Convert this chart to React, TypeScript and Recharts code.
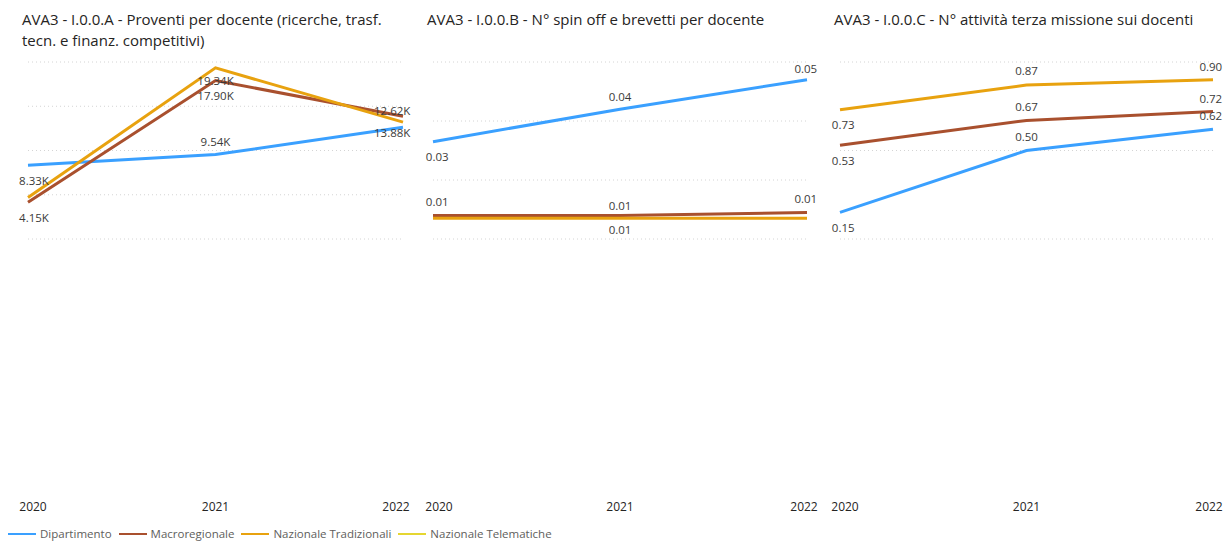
import { LineChart, Line, XAxis, YAxis, CartesianGrid, LabelList } from 'recharts';

const years = ['2020', '2021', '2022'];
const seriesNames = ['Dipartimento', 'Macroregionale', 'Nazionale Tradizionali', 'Nazionale Telematiche'];

// I.0.0.A - proventi per docente
const proventiDip = [8330, 9540, 12620];
const proventiMacro = [4150, 17900, 13880];
const proventiNaz = [4700, 19340, 13200];

// I.0.0.B - spin off e brevetti
const spinDip = [0.033, 0.044, 0.054];
const spinMacro = [0.008, 0.008, 0.009];
const spinNaz = [0.007, 0.007, 0.007];

// I.0.0.C - terza missione
const terzaDip = [0.15, 0.5, 0.62];
const terzaMacro = [0.53, 0.67, 0.72];
const terzaNaz = [0.73, 0.87, 0.9];

const colors = ['#3AA0FF', '#A9502E', '#E8A20F', '#E5D631'];
const font = '"Segoe UI", "Open Sans", sans-serif';

const toRows = (a: number[], b: number[], c: number[]) =>
  years.map((year, i) => ({ year, dip: a[i], macro: b[i], naz: c[i] }));

const fmtK = (v: number) => (v / 1000).toFixed(2) + 'K';
const fmt2 = (v: number) => v.toFixed(2);

// keep a centred text inside the panel bounds
const clampX = (x: number, w: number, minX: number, maxX: number) =>
  Math.max(minX + w / 2, Math.min(maxX - w / 2, x));

// vertical offset of each data label from its point (null = label hidden)
type Offsets = (number | null)[];

const makeLabel = (offsets: Offsets, fmt: (v: number) => string, minX: number, maxX: number) =>
  (props: any) => {
    const { x, y, value, index } = props;
    const dy = offsets[index];
    if (dy == null || value == null) return null;
    const text = fmt(Number(value));
    return (
      <text
        x={clampX(x, text.length * 5.6, minX, maxX)}
        y={y + dy}
        textAnchor="middle"
        dominantBaseline="central"
        fontSize={11.5}
        fill="#3b3a39"
        fontFamily={font}
      >
        {text}
      </text>
    );
  };

const makeTick = (minX: number, maxX: number) => (props: any) => {
  const { x, y, payload } = props;
  return (
    <text
      x={clampX(x, 26, minX, maxX)}
      y={y + 259}
      textAnchor="middle"
      dominantBaseline="central"
      fontSize={12}
      fill="#252423"
      fontFamily={font}
    >
      {payload.value}
    </text>
  );
};

type PanelProps = {
  left: number;
  width: number;
  title: string;
  rows: any[];
  domain: [number, number];
  ticks: number[];
  fmt: (v: number) => string;
  offsets: Offsets[];
  marginLeft: number;
  marginRight: number;
  minX: number;
  maxX: number;
};

const Panel = ({ left, width, title, rows, domain, ticks, fmt, offsets, marginLeft, marginRight, minX, maxX }: PanelProps) => {
  const keys = ['dip', 'macro', 'naz'];
  const YearTick = makeTick(minX - left, maxX - left);
  return (
    <div style={{ position: 'absolute', left, top: 0, width, height: 542 }}>
      <div
        style={{
          position: 'absolute',
          left: marginLeft - 6,
          top: 9,
          width: width - marginLeft,
          fontSize: 15,
          lineHeight: '21px',
          color: '#252423',
          fontFamily: font,
        }}
      >
        {title}
      </div>
      <LineChart width={width} height={542} data={rows} margin={{ top: 62, right: marginRight, bottom: 0, left: marginLeft }}>
        <CartesianGrid vertical={false} stroke="#d4d4d4" strokeDasharray="1 3" />
        <XAxis dataKey="year" axisLine={false} tickLine={false} height={303} tick={<YearTick />} interval={0} />
        <YAxis hide domain={domain} ticks={ticks} />
        {keys.map((k, i) => (
          <Line
            key={k}
            dataKey={k}
            name={seriesNames[i]}
            stroke={colors[i]}
            strokeWidth={3}
            dot={false}
            isAnimationActive={false}
          >
            <LabelList dataKey={k} content={makeLabel(offsets[i], fmt, minX - left, maxX - left)} />
          </Line>
        ))}
      </LineChart>
    </div>
  );
};

const Legend = () => (
  <div
    style={{
      position: 'absolute',
      left: 8,
      top: 527,
      display: 'flex',
      fontFamily: font,
      fontSize: 11.5,
      lineHeight: '14px',
      color: '#605E5C',
    }}
  >
    {seriesNames.map((n, i) => (
      <div key={n} style={{ display: 'flex', alignItems: 'center', marginRight: 7 }}>
        <span style={{ display: 'inline-block', width: 28, height: 2, background: colors[i], marginRight: 4 }} />
        <span>{n}</span>
      </div>
    ))}
  </div>
);

export default function App() {
  return (
    <div style={{ position: 'absolute', left: 0, top: 0, width: 1229, height: 542, background: '#fff', overflow: 'hidden' }}>
      <Panel
        left={0}
        width={420}
        title="AVA3 - I.0.0.A - Proventi per docente (ricerche, trasf. tecn. e finanz. competitivi)"
        rows={toRows(proventiDip, proventiMacro, proventiNaz)}
        domain={[0, 20000]}
        ticks={[0, 5000, 10000, 15000, 20000]}
        fmt={fmtK}
        offsets={[[15, -13, -17], [15, 15, 16], [null, 13, null]]}
        marginLeft={28}
        marginRight={17}
        minX={20}
        maxX={409}
      />
      <Panel
        left={410}
        width={410}
        title="AVA3 - I.0.0.B - N° spin off e brevetti per docente"
        rows={toRows(spinDip, spinMacro, spinNaz)}
        domain={[0, 0.06]}
        ticks={[0, 0.02, 0.04, 0.06]}
        fmt={fmt2}
        offsets={[[15, -13, -11], [-14, -10, -14], [null, 11, null]]}
        marginLeft={23}
        marginRight={13}
        minX={426}
        maxX={817}
      />
      <Panel
        left={815}
        width={414}
        title="AVA3 - I.0.0.C - N° attività terza missione sui docenti"
        rows={toRows(terzaDip, terzaMacro, terzaNaz)}
        domain={[0, 1]}
        ticks={[0, 0.5, 1]}
        fmt={fmt2}
        offsets={[[15, -14, -14], [15, -14, -13], [15, -15, -13]]}
        marginLeft={25}
        marginRight={16}
        minX={832}
        maxX={1222}
      />
      <Legend />
    </div>
  );
}
